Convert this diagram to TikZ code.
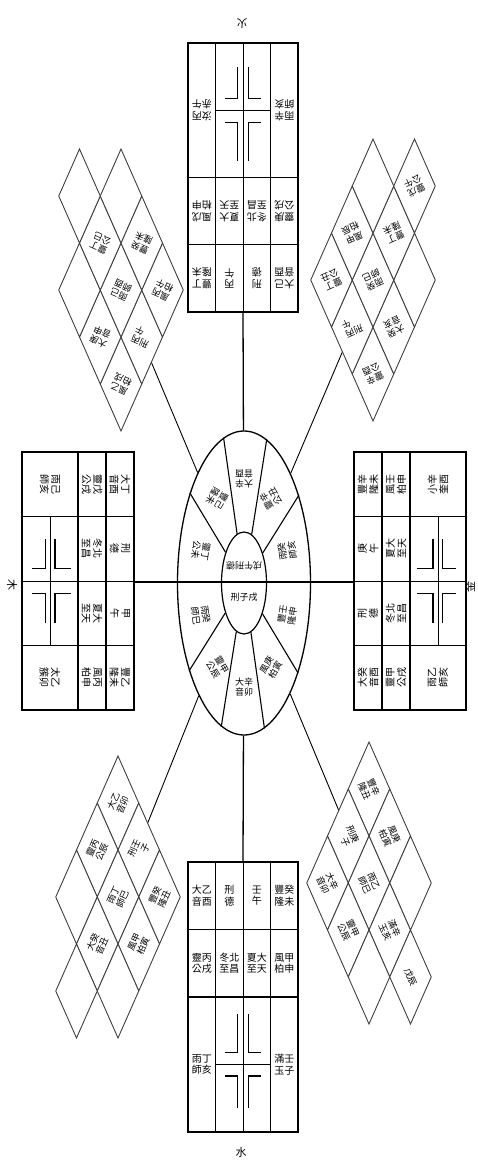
\documentclass[tikz,border=0pt]{standalone}
\usepackage{fontspec}
\newfontfamily\cjk{Noto Sans CJK TC}
\usetikzlibrary{shapes.geometric}

% one direction block, in its own frame (x across, y outward)
\newcommand{\blockgrid}{%
  \draw[frame] (-2,0) rectangle (2,4);
  \draw[frame] (-2,1) -- (2,1) (-2,2) -- (2,2);
  \draw[grid] (-1,0) -- (-1,4) (0,0) -- (0,4) (1,0) -- (1,4) (-1,3) -- (1,3);
  \draw[hook] (-0.65,2.82) -- (-0.2,2.82) -- (-0.2,2.25)
    (0.65,2.82) -- (0.2,2.82) -- (0.2,2.25)
    (-0.65,3.17) -- (-0.2,3.17) -- (-0.2,3.65)
    (0.65,3.17) -- (0.2,3.17) -- (0.2,3.65);
}

% diagonal group of lozenges: name, centre x, centre y, text angle, cells
\newcommand{\diamgroup}[5]{%
  \foreach \du/\dv/\dt [count=\k] in {#5} {
    \draw[diam] ({#2+(\du-1)*20.75},{#3+\dv*47}) -- ++(20.75,-47) -- ++(20.75,47) -- ++(-20.75,47) -- cycle;
    \node[dtxt, rotate=#4] (#1\k) at ({#2+\du*20.75},{#3+\dv*47}) {\dt};
  }}

\begin{document}
\begin{tikzpicture}[x=1pt, y=-1pt,
    frame/.style={line width=1.3pt},
    grid/.style={line width=0.7pt},
    hook/.style={line width=1.1pt},
    ray/.style={line width=1.3pt},
    spoke/.style={line width=0.9pt},
    diam/.style={draw=black!75, fill=white, line width=0.9pt},
    cell/.style={font=\cjk\fontsize{10}{11.5}\selectfont, align=center, inner sep=0pt},
    sectxt/.style={font=\cjk\fontsize{9}{10}\selectfont, align=center, inner sep=0pt},
    dtxt/.style={font=\cjk\fontsize{9}{10}\selectfont, align=center, inner sep=0pt},
    lbl/.style={font=\cjk\fontsize{11}{12}\selectfont, inner sep=0pt}]

  \path[use as bounding box, fill=white] (0,0) rectangle (477,1162);

  % wheel
  \node[draw, ellipse, line width=1.3pt, minimum width=133, minimum height=304, inner sep=0pt] (outer) at (244,583) {};
  \node[draw, ellipse, line width=1.2pt, minimum width=45, minimum height=102, inner sep=0pt] (inner) at (244,583) {};

  \coordinate (northin) at (243,312);
  \coordinate (southin) at (243,862);
  \coordinate (westin) at (134,582);
  \coordinate (eastin) at (354,582);
  \coordinate (nwc) at (121,290);
  \coordinate (nec) at (373,280);
  \coordinate (swc) at (118,897);
  \coordinate (sec) at (369,883);

  \draw[ray] (westin) -- (eastin);
  \draw[ray] (outer) -- (northin);
  \draw[ray] (outer) -- (southin);
  \draw[spoke] (outer) -- (nwc);
  \draw[spoke] (outer) -- (nec);
  \draw[spoke] (outer) -- (swc);
  \draw[spoke] (outer) -- (sec);

  \foreach \b in {58.9,81.9,98.1,121.1,238.9,261.9,278.1,301.1}
    \draw[line width=1.1pt] (inner.\b) -- (outer.\b);

  \foreach \ang/\rot/\txt [count=\k] in {18/97.8/{雨癸\\師亥}, 54/120.1/{靈辛\\公丑},
      90/180/{大辛\\音酉}, 126/239.9/{豐己\\隆未}, 162/262.2/{靈丁\\公未},
      198/-82.2/{雨癸\\師巳}, 234/-59.9/{靈甲\\公辰}, 270/0/{大辛\\音卯},
      306/59.9/{風庚\\柏寅}, 342/82.2/{豐壬\\隆申}}
    \node[sectxt, rotate=\rot] (ring\k) at ({244+45.5*cos(\ang)},{583-104*sin(\ang)}) {\txt};

  \node[sectxt, rotate=180] (hubtop) at (244,566) {戌午刑德};
  \node[sectxt] (hubbot) at (244,597) {刑子戌};

  % south block
  \begin{scope}[shift={(243,862)}, x={(27.5pt,0pt)}, y={(0pt,-67.5pt)}]
    \blockgrid
    \foreach \cu/\cw/\ct [count=\k] in {-1.5/0.5/{大乙\\音酉}, -0.5/0.5/{刑\\德}, 0.5/0.5/{壬\\午}, 1.5/0.5/{豐癸\\隆未},
        -1.5/1.5/{靈丙\\公戌}, -0.5/1.5/{冬北\\至昌}, 0.5/1.5/{夏大\\至天}, 1.5/1.5/{風甲\\柏申},
        -1.5/3/{雨丁\\師亥}, 1.5/3/{滿壬\\玉子}}
      \node[cell] (s\k) at (\cu,\cw) {\ct};
  \end{scope}

  % north block
  \begin{scope}[shift={(243,312)}, x={(-27.5pt,0pt)}, y={(0pt,67.25pt)}]
    \blockgrid
    \foreach \cu/\cw/\ct [count=\k] in {-1.5/0.5/{大己\\音酉}, -0.5/0.5/{刑\\德}, 0.5/0.5/{丙\\午}, 1.5/0.5/{豐丁\\隆未},
        -1.5/1.5/{靈庚\\公戌}, -0.5/1.5/{冬北\\至昌}, 0.5/1.5/{夏大\\至天}, 1.5/1.5/{風戊\\柏申},
        -1.5/3/{雨辛\\師亥}, 1.5/3/{汝丙\\赤午}}
      \node[cell, rotate=180] (n\k) at (\cu,\cw) {\ct};
  \end{scope}

  % west block
  \begin{scope}[shift={(134,581)}, x={(0pt,-64.5pt)}, y={(-28pt,0pt)}]
    \blockgrid
    \foreach \cu/\cw/\ct [count=\k] in {-1.5/0.5/{大丁\\音酉}, -0.5/0.5/{刑\\德}, 0.5/0.5/{甲\\午}, 1.5/0.5/{豐乙\\隆未},
        -1.5/1.5/{靈戊\\公戌}, -0.5/1.5/{冬北\\至昌}, 0.5/1.5/{夏大\\至天}, 1.5/1.5/{風丙\\柏申},
        -1.5/3/{雨己\\師亥}, 1.5/3/{太乙\\簇卯}}
      \node[cell, rotate=-90] (w\k) at (\cu,\cw) {\ct};
  \end{scope}

  % east block
  \begin{scope}[shift={(354,581)}, x={(0pt,64.5pt)}, y={(28pt,0pt)}]
    \blockgrid
    \foreach \cu/\cw/\ct [count=\k] in {-1.5/0.5/{大癸\\音酉}, -0.5/0.5/{刑\\德}, 0.5/0.5/{庚\\午}, 1.5/0.5/{豐辛\\隆未},
        -1.5/1.5/{靈甲\\公戌}, -0.5/1.5/{冬北\\至昌}, 0.5/1.5/{夏大\\至天}, 1.5/1.5/{風壬\\柏申},
        -1.5/3/{雨乙\\師亥}, 1.5/3/{小辛\\奎酉}}
      \node[cell, rotate=90] (e\k) at (\cu,\cw) {\ct};
  \end{scope}

  % diagonal groups
  \diamgroup{nw}{121}{290}{156}{0/2/{風乙\\柏戌}, 1/1/{刑丙\\　午}, -1/1/{大庚\\音申}, 2/0/{風丙\\柏午},
    0/0/{雨己\\師酉}, -2/0/{}, 1/-1/{豐癸\\隆未}, -1/-1/{靈丁\\公巳}, 0/-2/{}, -2/-2/{}}
  \diamgroup{ne}{373}{280}{204}{0/2/{靈辛\\公酉}, -1/1/{刑丙\\　午}, 1/1/{大癸\\音亥}, -2/0/{靈丁\\公丑},
    0/0/{雨癸\\師巳}, 2/0/{}, -1/-1/{風甲\\柏辰}, 1/-1/{豐丁\\隆未}, 0/-2/{}, 2/-2/{靈戊\\公午}}
  \diamgroup{sw}{118}{897}{66}{0/-2/{大乙\\音卯}, 1/-1/{刑壬\\　子}, -1/-1/{靈丙\\公辰}, 2/0/{豐癸\\隆丑},
    0/0/{雨丁\\師巳}, -2/0/{}, 1/1/{風甲\\柏寅}, -1/1/{大癸\\音丑}, 0/2/{}, -2/2/{}}
  \diamgroup{se}{369}{883}{-66}{0/-2/{豐辛\\隆丑}, -1/-1/{刑庚\\　子}, 1/-1/{風庚\\柏寅}, -2/0/{大辛\\音卯},
    0/0/{雨乙\\師巳}, 2/0/{}, -1/1/{靈甲\\公辰}, 1/1/{滿辛\\玉亥}, 0/2/{}, 2/2/{戊辰}}

  % elements
  \node[lbl, rotate=180] (fire) at (242,24) {火};
  \node[lbl] (water) at (241,1152) {水};
  \node[lbl, rotate=-90] (wood) at (12,585) {木};
  \node[lbl, rotate=90] (metal) at (470,587) {金};
\end{tikzpicture}
\end{document}
